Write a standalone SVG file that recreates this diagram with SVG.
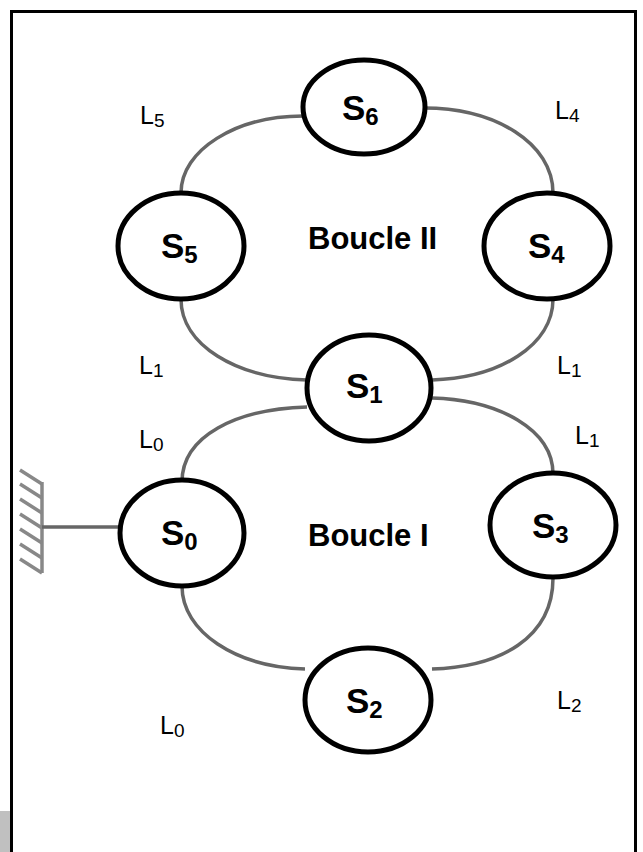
<svg xmlns="http://www.w3.org/2000/svg" width="643" height="852" viewBox="0 0 643 852">
<style>
.node{fill:#fff;stroke:#000;stroke-width:5}
.conn{fill:none;stroke:#666;stroke-width:3.5}
.wall{fill:none;stroke:#888;stroke-width:3.5}
.sl{font-family:"Liberation Sans",Arial,sans-serif;font-weight:bold;font-size:35px;fill:#000}
.sub{font-size:24px}
.lb{font-family:"Liberation Sans",Arial,sans-serif;font-size:25px;fill:#000}
.lsub{font-size:19px}
.bc{font-family:"Liberation Sans",Arial,sans-serif;font-weight:bold;font-size:31px;fill:#000}
</style>
<rect x="0" y="0" width="643" height="852" fill="#fff"/>
<rect x="0" y="811" width="10" height="41" fill="#c0c0c0"/>
<rect x="11.5" y="11.5" width="624" height="845" fill="none" stroke="#000" stroke-width="3"/>
<g id="wall">
<line class="wall" x1="42" y1="482" x2="42" y2="573"/>
<path class="wall" d="M20,470 L42,484 M20,484 L42,498 M20,499 L42,513 M20,514 L42,528 M20,529 L42,543 M20,544 L42,558 M20,559 L42,573"/>
</g>
<g id="connectors">
<line class="conn" x1="42" y1="527" x2="122" y2="527"/>
<path class="conn" d="M303,116 C236,116 181,150 181,193"/>
<path class="conn" d="M424,108 C495,108 553,143 553,193"/>
<path class="conn" d="M181,299 C181,345 236,378 307,380"/>
<path class="conn" d="M553,299 C553,345 500,378 432,380"/>
<path class="conn" d="M307,407 C236,409 182,436 182,482"/>
<path class="conn" d="M432,398 C500,400 553,430 553,474"/>
<path class="conn" d="M182,586 C182,632 236,667 305,669"/>
<path class="conn" d="M432,669 C500,667 553,638 553,578"/>
</g>
<g id="S6"><ellipse class="node" cx="364" cy="107" rx="61" ry="47"/><text class="sl" x="342" y="120">S<tspan class="sub" dy="5">6</tspan></text></g>
<g id="S5"><ellipse class="node" cx="181" cy="246" rx="63" ry="53"/><text class="sl" x="161" y="258">S<tspan class="sub" dy="5">5</tspan></text></g>
<g id="S4"><ellipse class="node" cx="547" cy="246" rx="63" ry="53"/><text class="sl" x="528" y="258">S<tspan class="sub" dy="5">4</tspan></text></g>
<g id="S1"><ellipse class="node" cx="369" cy="388" rx="62" ry="53"/><text class="sl" x="346" y="398">S<tspan class="sub" dy="5">1</tspan></text></g>
<g id="S0"><ellipse class="node" cx="182" cy="533" rx="62" ry="53"/><text class="sl" x="161" y="545">S<tspan class="sub" dy="5">0</tspan></text></g>
<g id="S3"><ellipse class="node" cx="553" cy="525" rx="63" ry="52"/><text class="sl" x="532" y="538">S<tspan class="sub" dy="5">3</tspan></text></g>
<g id="S2"><ellipse class="node" cx="368" cy="700" rx="63" ry="52"/><text class="sl" x="346" y="713">S<tspan class="sub" dy="5">2</tspan></text></g>
<g id="loops">
<text class="bc" x="308" y="249">Boucle II</text>
<text class="bc" x="308" y="546">Boucle I</text>
</g>
<g id="labels">
<text class="lb" x="140" y="124">L<tspan class="lsub" dy="3">5</tspan></text>
<text class="lb" x="555" y="119">L<tspan class="lsub" dy="3">4</tspan></text>
<text class="lb" x="139" y="374">L<tspan class="lsub" dy="3">1</tspan></text>
<text class="lb" x="557" y="374">L<tspan class="lsub" dy="3">1</tspan></text>
<text class="lb" x="139" y="448">L<tspan class="lsub" dy="3">0</tspan></text>
<text class="lb" x="575" y="444">L<tspan class="lsub" dy="3">1</tspan></text>
<text class="lb" x="160" y="734">L<tspan class="lsub" dy="3">0</tspan></text>
<text class="lb" x="557" y="709">L<tspan class="lsub" dy="3">2</tspan></text>
</g>
</svg>
